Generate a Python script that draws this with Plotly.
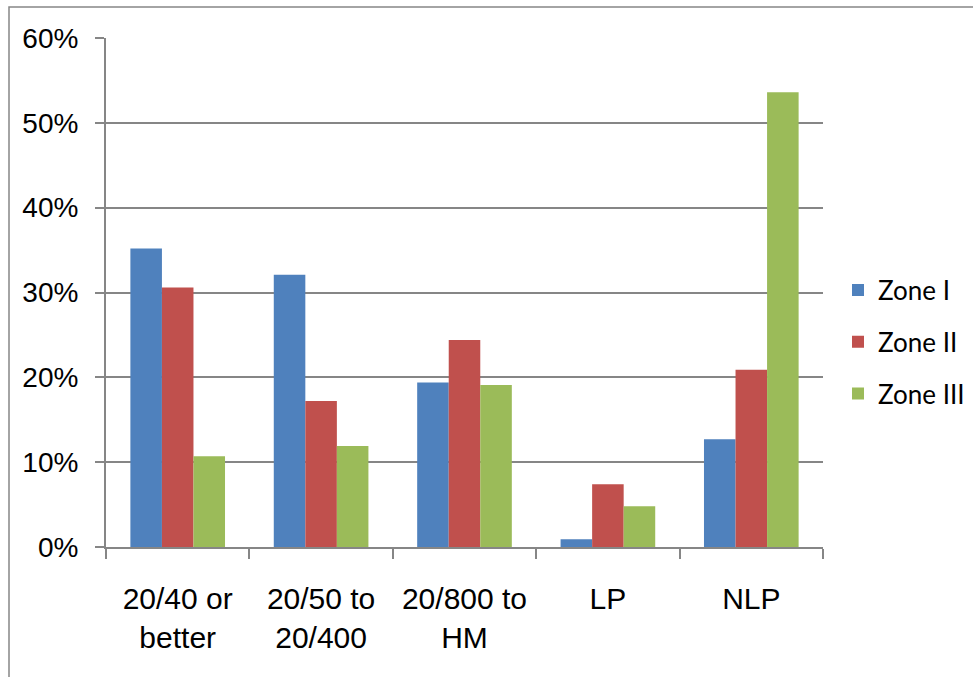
import plotly.graph_objects as go

categories = ["20/40 or<br>better", "20/50 to<br>20/400", "20/800 to<br>HM", "LP", "NLP"]
zone_1 = [35.2, 32.1, 19.4, 0.9, 12.7]
zone_2 = [30.6, 17.2, 24.4, 7.4, 20.9]
zone_3 = [10.7, 11.9, 19.1, 4.8, 53.6]
series_names = ["Zone I", "Zone II", "Zone III"]
series_colors = ["#4F81BD", "#C0504D", "#9BBB59"]
y_ticks = [0, 10, 20, 30, 40, 50, 60]
y_tick_text = ["0%", "10%", "20%", "30%", "40%", "50%", "60%"]

W, H = 973, 677
ML, MR, MT, MB = 106, 150, 38, 130
pw, ph = W - ML - MR, H - MT - MB

fig = go.Figure()
for name, vals, col in zip(series_names, [zone_1, zone_2, zone_3], series_colors):
    fig.add_trace(go.Bar(x=categories, y=vals, name=name, legendgroup=name,
                         marker=dict(color=col, line=dict(width=0))))

axis_font = "Liberation Sans, Arial, sans-serif"
grey = "#868686"

fig.update_layout(
    width=W, height=H,
    margin=dict(l=ML, r=MR, t=MT, b=MB, autoexpand=False),
    paper_bgcolor="white", plot_bgcolor="white",
    barmode="group", bargap=0.34, bargroupgap=0,
    showlegend=True,
    legend=dict(x=(838 - ML) / pw, y=(547 - 342) / ph, xanchor="left", yanchor="middle",
                font=dict(family="Lato, sans-serif", size=26, color="black"),
                traceorder="grouped", tracegroupgap=15, bgcolor="rgba(0,0,0,0)"),
    xaxis=dict(showline=True, linecolor=grey, linewidth=2, ticks="outside", ticklen=10,
               tickcolor=grey, tickwidth=2, tickson="boundaries", showgrid=False,
               tickangle=0, automargin=False,
               tickfont=dict(family=axis_font, size=30, color="black"),
               ticklabelstandoff=24),
    yaxis=dict(range=[0, 60], tickvals=y_ticks, ticktext=y_tick_text,
               showline=True, linecolor=grey, linewidth=2, ticks="outside", ticklen=9,
               tickcolor=grey, tickwidth=2, showgrid=True, gridcolor=grey, gridwidth=1.5,
               zeroline=False, automargin=False,
               tickfont=dict(family=axis_font, size=28, color="black"),
               ticklabelstandoff=11),
    shapes=[dict(type="rect", xref="paper", yref="paper",
                 x0=(9 - ML) / pw, x1=(W + 10 - ML) / pw,
                 y0=(547 - (H + 10)) / ph, y1=(547 - 7) / ph,
                 line=dict(color=grey, width=1.5), fillcolor="rgba(0,0,0,0)", layer="below")],
)

fig.write_html("out.html")
